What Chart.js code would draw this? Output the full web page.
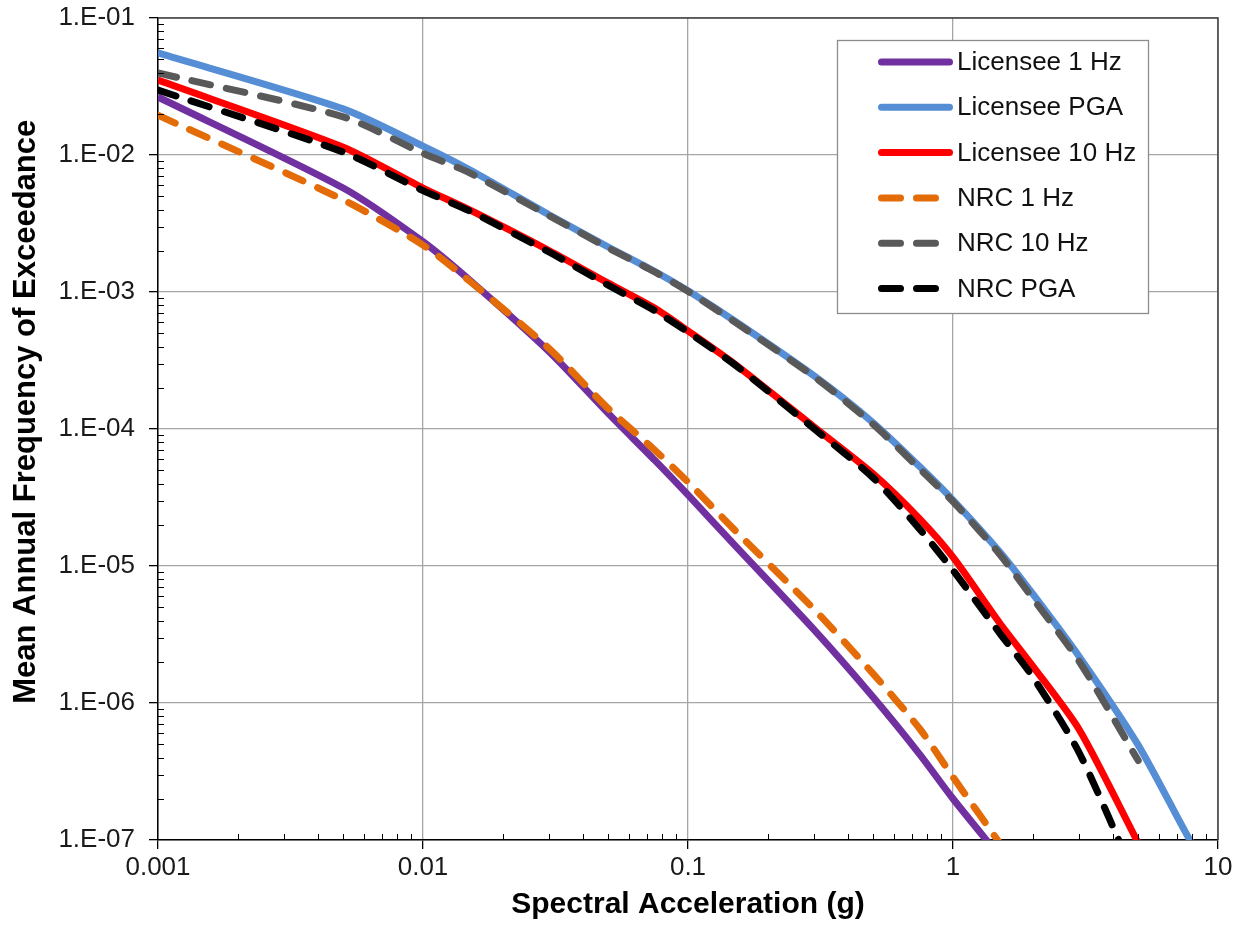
<!DOCTYPE html>
<html>
<head>
<meta charset="utf-8">
<script src="https://cdn.jsdelivr.net/npm/chart.js@4.4.0/dist/chart.umd.min.js"></script>
<style>
  body { margin: 0; background: #fff; }
  #wrap { width: 1248px; height: 935px; }
</style>
</head>
<body>
<div id="wrap"><canvas id="hazard" width="1248" height="935"></canvas></div>
<script>
// spectral acceleration (g) at which the hazard curves are sampled
const saValues = [0.001, 0.005, 0.01, 0.015, 0.03, 0.05, 0.075, 0.1, 0.15, 0.3, 0.5, 0.75, 1, 1.5, 2, 3, 5, 7.5, 10];

// mean annual frequency of exceedance, one value per saValues entry (null = no point)
const licensee1Hz  = [2.65e-2, 5.74e-3, 2.33e-3, 1.22e-3, 3.65e-4, 1.3e-4, 5.9e-5, 3.3e-5, 1.42e-5, 3.4e-6, 1.1e-6, 4.2e-7, 2.0e-7, 7.6e-8, null, null, null, null, null];
const licenseePGA  = [5.56e-2, 2.17e-2, 1.16e-2, 7.8e-3, 3.65e-3, 2.13e-3, 1.41e-3, 1.02e-3, 6.14e-4, 2.43e-4, 1.11e-4, 5.3e-5, 3.03e-5, 1.27e-5, 6.25e-6, 2.17e-6, 4.93e-7, 1.16e-7, 4.3e-8];
const licensee10Hz = [3.52e-2, 1.14e-2, 5.74e-3, 3.97e-3, 2.0e-3, 1.16e-3, 7.6e-4, 5.2e-4, 2.98e-4, 1.03e-4, 4.7e-5, 2.2e-5, 1.16e-5, 3.84e-6, 1.86e-6, 6.35e-7, 9.5e-8, null, null];
const nrc1Hz       = [1.95e-2, 4.7e-3, 2.2e-3, 1.2e-3, 3.85e-4, 1.41e-4, 7.0e-5, 4.1e-5, 1.83e-5, 4.8e-6, 1.63e-6, 6.46e-7, 2.88e-7, 9.5e-8, null, null, null, null, null];
const nrc10Hz      = [3.97e-2, 1.9e-2, 1.03e-2, 7.4e-3, 3.6e-3, 2.1e-3, 1.4e-3, 1.01e-3, 6.05e-4, 2.4e-4, 1.08e-4, 5.1e-5, 2.95e-5, 1.22e-5, 5.8e-6, 2.0e-6, 3.8e-7, null, null];
const nrcPGA       = [2.98e-2, 1.05e-2, 5.5e-3, 3.9e-3, 1.95e-3, 1.12e-3, 7.3e-4, 5.1e-4, 2.95e-4, 1.0e-4, 4.4e-5, 1.85e-5, 9.3e-6, 3.24e-6, 1.55e-6, 4.3e-7, 4.7e-8, null, null];

const xTickValues = [0.001, 0.01, 0.1, 1, 10];
const xTickLabels = ["0.001", "0.01", "0.1", "1", "10"];
const yTickValues = [1e-7, 1e-6, 1e-5, 1e-4, 1e-3, 1e-2, 1e-1];
const yTickLabels = ["1.E-07", "1.E-06", "1.E-05", "1.E-04", "1.E-03", "1.E-02", "1.E-01"];

const FONT = "Arial, 'Liberation Sans', sans-serif";

function points(vals) {
  return saValues.map((x, i) => ({ x: x, y: vals[i] })).filter(p => p.y !== null);
}

function solid(label, vals, color) {
  return { label, data: points(vals), borderColor: color, borderWidth: 7, pointRadius: 0,
           borderCapStyle: "butt", borderJoinStyle: "round", tension: 0.25, clip: 0, order: 1 };
}
function dashed(label, vals, color) {
  return { label, data: points(vals), borderColor: color, borderWidth: 7, pointRadius: 0,
           borderDash: [19, 16], borderCapStyle: "round", borderJoinStyle: "round", tension: 0.25, clip: 0, order: 0 };
}

// ---- minor ticks (inside) + plot frame ----
const frameTicks = {
  id: "frameTicks",
  afterDatasetsDraw(chart) {
    const { ctx, chartArea: a, scales } = chart;
    ctx.save();
    ctx.strokeStyle = "#000";
    ctx.lineWidth = 1;
    ctx.beginPath();
    for (let e = -3; e < 1; e++) {
      for (let k = 2; k <= 9; k++) {
        const px = Math.round(scales.x.getPixelForValue(k * Math.pow(10, e))) + 0.5;
        ctx.moveTo(px, a.bottom); ctx.lineTo(px, a.bottom - 6);
      }
    }
    for (let e = -7; e < -1; e++) {
      for (let k = 2; k <= 9; k++) {
        const py = Math.round(scales.y.getPixelForValue(k * Math.pow(10, e))) + 0.5;
        ctx.moveTo(a.left, py); ctx.lineTo(a.left + 6, py);
      }
    }
    ctx.stroke();
    ctx.strokeStyle = "#404040";
    ctx.lineWidth = 1.5;
    ctx.beginPath();
    ctx.moveTo(a.left, a.top); ctx.lineTo(a.right, a.top); ctx.lineTo(a.right, a.bottom);
    ctx.stroke();
    ctx.restore();
  }
};

// ---- boxed legend inside the plot ----
const boxLegend = {
  id: "boxLegend",
  afterDraw(chart) {
    const ctx = chart.ctx;
    ctx.save();
    ctx.fillStyle = "#fff";
    ctx.fillRect(837, 40, 311, 273);
    ctx.strokeStyle = "#8c8c8c";
    ctx.lineWidth = 1.3;
    ctx.strokeRect(837.5, 40.5, 311, 273);
    chart.data.datasets.forEach((ds, i) => {
      const y = 62 + i * 45.3;
      ctx.strokeStyle = ds.borderColor;
      ctx.lineWidth = ds.borderWidth;
      ctx.lineCap = "round";
      ctx.setLineDash(ds.borderDash || []);
      ctx.beginPath();
      ctx.moveTo(881.5, y);
      ctx.lineTo(949.5, y);
      ctx.stroke();
      ctx.setLineDash([]);
      ctx.fillStyle = "#111";
      ctx.font = "26px " + FONT;
      ctx.textBaseline = "middle";
      ctx.fillText(ds.label, 957, y + 1);
    });
    ctx.restore();
  }
};

new Chart(document.getElementById("hazard"), {
  type: "line",
  data: {
    datasets: [
      solid("Licensee 1 Hz", licensee1Hz, "#7030A0"),
      solid("Licensee PGA", licenseePGA, "#558ED5"),
      solid("Licensee 10 Hz", licensee10Hz, "#FF0000"),
      dashed("NRC 1 Hz", nrc1Hz, "#E36C09"),
      dashed("NRC 10 Hz", nrc10Hz, "#595959"),
      dashed("NRC PGA", nrcPGA, "#000000")
    ]
  },
  options: {
    responsive: false,
    animation: false,
    layout: { padding: { top: 18, right: 30, left: 0, bottom: 0 } },
    plugins: { legend: { display: false }, tooltip: { enabled: false } },
    scales: {
      x: {
        type: "logarithmic",
        min: 0.001,
        max: 10,
        afterBuildTicks: s => { s.ticks = xTickValues.map(v => ({ value: v })); },
        afterFit: s => { s.height = 95; s.paddingLeft = 0; s.paddingRight = 0; },
        ticks: { autoSkip: false, maxRotation: 0, padding: 3, color: "#1a1a1a",
                 font: { family: FONT, size: 26 }, callback: (v, i) => xTickLabels[i] },
        grid: { color: "#a6a6a6", lineWidth: 1.3, tickLength: 9, tickColor: "#000" },
        border: { color: "#000", width: 1.5 },
        title: { display: true, text: "Spectral Acceleration (g)", color: "#000",
                 font: { family: FONT, size: 30, weight: "bold", lineHeight: 1.2 },
                 padding: { top: 0, bottom: 12 } }
      },
      y: {
        type: "logarithmic",
        min: 1e-7,
        max: 1e-1,
        afterBuildTicks: s => { s.ticks = yTickValues.map(v => ({ value: v })); },
        afterFit: s => { s.width = 158; s.paddingTop = 0; s.paddingBottom = 0; },
        ticks: { autoSkip: false, padding: 14, color: "#1a1a1a",
                 font: { family: FONT, size: 26 }, callback: (v, i) => yTickLabels[i] },
        grid: { color: "#a6a6a6", lineWidth: 1.3, tickLength: 9, tickColor: "#000" },
        border: { color: "#000", width: 1.5 },
        title: { display: true, text: "    Mean Annual Frequency of Exceedance", color: "#000",
                 font: { family: FONT, size: 31, weight: "bold", lineHeight: 1.2 },
                 padding: { top: 8, bottom: 0 } }
      }
    }
  },
  plugins: [frameTicks, boxLegend]
});
</script>
</body>
</html>
